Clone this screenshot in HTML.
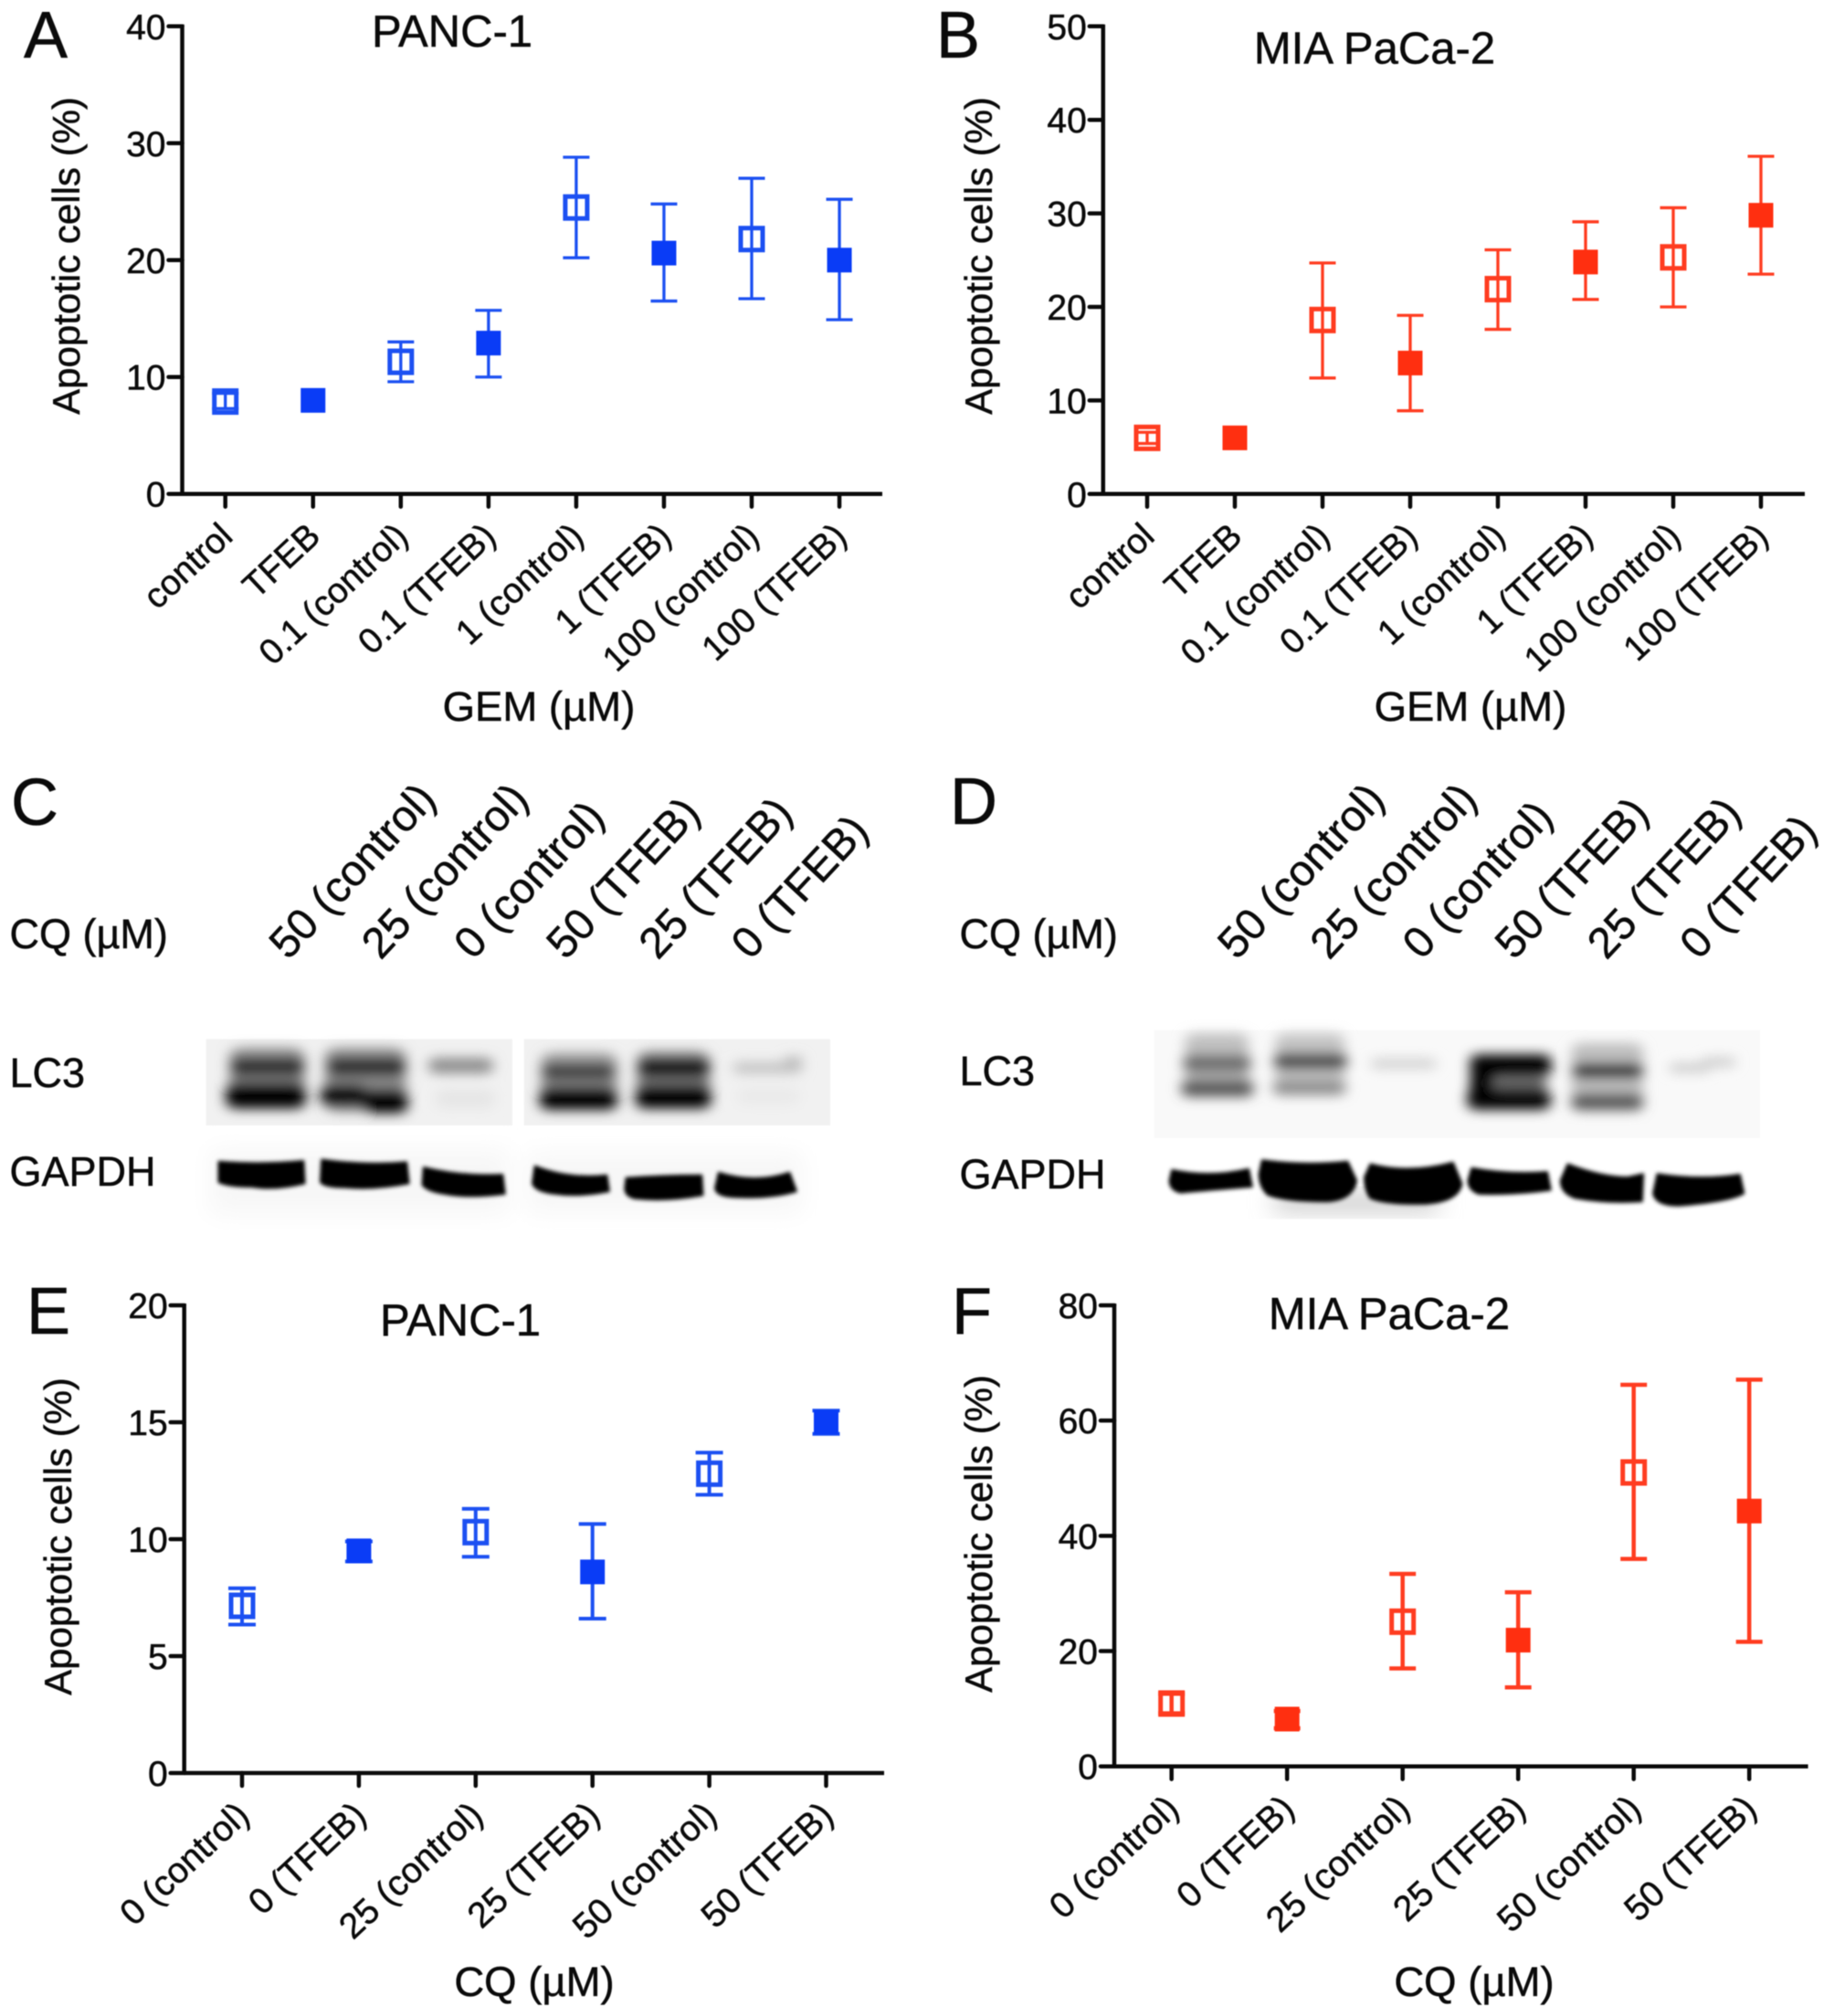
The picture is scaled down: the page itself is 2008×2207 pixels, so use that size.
<!DOCTYPE html>
<html lang="en">
<head>
<meta charset="utf-8">
<title>Apoptotic cells and LC3 blots in PANC-1 and MIA PaCa-2</title>
<style>
html,body{margin:0;padding:0;background:#fff;}
svg{display:block;filter:blur(0.6px);}
text{font-family:"Liberation Sans",sans-serif;fill:#0a0a0a;stroke:#0a0a0a;stroke-width:0.5px;}
</style>
</head>
<body>
<svg id="figure" xmlns="http://www.w3.org/2000/svg" width="2008" height="2207" viewBox="0 0 2008 2207">
<defs>
<filter id="blurL" x="-40%" y="-60%" width="180%" height="220%"><feGaussianBlur stdDeviation="11 18"/></filter>
<filter id="blurG" x="-10%" y="-20%" width="120%" height="140%"><feGaussianBlur stdDeviation="3.5 6"/></filter>
<filter id="blurH" x="-20%" y="-40%" width="140%" height="180%"><feGaussianBlur stdDeviation="20 34"/></filter>
</defs>
<rect width="2008" height="2207" fill="#fff"/>

<g font-size="72">
<text x="26" y="63">A</text>
<text x="1025" y="63">B</text>
<text x="12" y="903">C</text>
<text x="1040" y="902">D</text>
<text x="29" y="1460">E</text>
<text x="1042" y="1460">F</text>
</g>

<!-- Panel C blot -->
<g transform="translate(0,820) scale(0.641,0.3577)">
<rect x="352" y="888" width="523" height="264" fill="#f1f1f1"/>
<rect x="895" y="888" width="523" height="264" fill="#f1f1f1"/>
<rect x="360" y="1225" width="510" height="200" fill="#f7f7f7" filter="url(#blurH)"/>
<rect x="900" y="1235" width="470" height="185" fill="#f7f7f7" filter="url(#blurH)"/>
<g filter="url(#blurL)">
<rect x="392" y="915" width="128" height="185" rx="24" fill="#8c8c8c"/>
<rect x="395" y="945" width="124" height="55" rx="14" fill="#2c2c2c"/>
<rect x="386" y="1020" width="136" height="80" rx="20" fill="#000"/>
<rect x="555" y="915" width="138" height="195" rx="24" fill="#8c8c8c"/>
<rect x="560" y="945" width="132" height="55" rx="14" fill="#2c2c2c"/>
<rect x="548" y="1026" width="78" height="68" rx="18" fill="#000"/>
<rect x="620" y="1040" width="76" height="74" rx="18" fill="#000"/>
<rect x="732" y="945" width="110" height="48" rx="16" fill="#8e8e8e"/>
<rect x="745" y="1040" width="100" height="60" rx="16" fill="#e6e6e6"/>
<rect x="924" y="930" width="130" height="170" rx="24" fill="#9a9a9a"/>
<rect x="926" y="962" width="124" height="52" rx="16" fill="#404040"/>
<rect x="922" y="1032" width="132" height="72" rx="18" fill="#000"/>
<rect x="1088" y="925" width="124" height="175" rx="24" fill="#888"/>
<rect x="1090" y="945" width="122" height="62" rx="16" fill="#141414"/>
<rect x="1086" y="1026" width="128" height="74" rx="18" fill="#000"/>
<rect x="1252" y="958" width="118" height="36" rx="14" fill="#c4c4c4"/>
<rect x="1340" y="940" width="30" height="36" rx="10" fill="#bbb"/>
<rect x="1260" y="1035" width="105" height="55" rx="14" fill="#eaeaea"/>
</g>
<g filter="url(#blurG)" fill="#000" stroke="#000" stroke-width="4" stroke-linejoin="round">
<path d="M374 1262 Q445 1272 518 1260 L520 1330 Q470 1352 430 1340 Q390 1340 374 1326 Z"/>
<path d="M550 1256 Q625 1274 694 1264 L698 1330 Q640 1350 590 1342 Q555 1342 548 1326 Z"/>
<path d="M724 1280 Q790 1308 858 1302 L862 1362 Q800 1376 760 1362 Q730 1354 722 1334 Z"/>
<path d="M914 1276 Q970 1316 1036 1304 L1040 1354 Q990 1372 950 1362 Q915 1356 910 1330 Z"/>
<path d="M1070 1312 Q1130 1304 1198 1304 L1200 1366 Q1140 1386 1085 1376 Q1068 1369 1068 1344 Z"/>
<path d="M1228 1296 Q1290 1330 1348 1296 L1360 1354 Q1320 1376 1260 1372 Q1224 1372 1222 1344 Z"/>
</g>
</g>

<!-- Panel D blot -->
<g transform="translate(1004,820) scale(0.641,0.3577)">
<rect x="405" y="860" width="1035" height="330" fill="#f9f9f9"/>
<rect x="610" y="1360" width="280" height="55" fill="#c8c8c8" filter="url(#blurH)"/>
<g filter="url(#blurL)">
<rect x="458" y="870" width="108" height="190" rx="20" fill="#c0c0c0"/>
<rect x="455" y="935" width="115" height="55" rx="14" fill="#6e6e6e"/>
<rect x="452" y="1012" width="122" height="52" rx="14" fill="#555"/>
<rect x="612" y="870" width="118" height="190" rx="20" fill="#c4c4c4"/>
<rect x="610" y="930" width="124" height="52" rx="14" fill="#4e4e4e"/>
<rect x="608" y="1015" width="124" height="44" rx="14" fill="#8c8c8c"/>
<rect x="775" y="945" width="112" height="36" rx="12" fill="#d6d6d6"/>
<rect x="945" y="935" width="138" height="68" rx="16" fill="#000"/>
<rect x="945" y="995" width="40" height="55" rx="10" fill="#000"/>
<rect x="985" y="1005" width="90" height="36" rx="10" fill="#666"/>
<rect x="940" y="1040" width="142" height="64" rx="18" fill="#000"/>
<rect x="1118" y="900" width="122" height="210" rx="20" fill="#bdbdbd"/>
<rect x="1120" y="962" width="120" height="46" rx="14" fill="#262626"/>
<rect x="1118" y="1055" width="122" height="50" rx="14" fill="#555"/>
<rect x="1285" y="960" width="70" height="32" rx="12" fill="#d0d0d0"/>
<rect x="1340" y="942" width="58" height="32" rx="12" fill="#d0d0d0"/>
</g>
<g filter="url(#blurG)" fill="#000" stroke="#000" stroke-width="4" stroke-linejoin="round">
<path d="M436 1288 Q500 1312 566 1285 L572 1340 Q500 1350 450 1358 Q432 1350 432 1320 Z"/>
<path d="M590 1258 Q660 1275 735 1262 L750 1320 Q745 1380 700 1385 Q630 1385 600 1365 Q585 1340 585 1300 Z"/>
<path d="M775 1270 Q840 1300 915 1265 L930 1330 Q925 1385 870 1392 Q800 1395 775 1375 Q765 1350 765 1310 Z"/>
<path d="M948 1282 Q1010 1302 1076 1294 L1082 1350 Q1020 1365 960 1362 Q942 1350 942 1320 Z"/>
<path d="M1112 1270 Q1170 1310 1215 1310 L1240 1300 L1238 1385 Q1180 1392 1125 1375 Q1100 1360 1100 1320 Z"/>
<path d="M1265 1300 Q1340 1320 1405 1302 L1412 1360 Q1390 1385 1300 1398 Q1262 1398 1258 1360 Z"/>
</g>
</g>

<g font-size="45">
<text x="10.5" y="1038">CQ (µM)</text>
<text x="10.5" y="1190">LC3</text>
<text x="10.5" y="1298">GAPDH</text>
</g>
<g font-size="45">
<text x="1050.5" y="1038">CQ (µM)</text>
<text x="1050.5" y="1188">LC3</text>
<text x="1050.5" y="1301">GAPDH</text>
</g>
<g id="lane-labels"></g>
<g id="charts"></g>
</svg>

<script>
// Panel A: PANC-1 / GEM
const panelACategories = ["control","TFEB","0.1 (control)","0.1 (TFEB)","1 (control)","1 (TFEB)","100 (control)","100 (TFEB)"];
const panelAMeans = [7.9,8.0,11.3,12.9,24.5,20.6,21.8,20.0];
const panelAHighs = [8.6,8.0,13.0,15.7,28.8,24.8,27.0,25.2];
const panelALows = [7.3,8.0,9.6,10.0,20.2,16.5,16.7,14.9];
const panelATicks = [0,10,20,30,40];

// Panel B: MIA PaCa-2 / GEM
const panelBCategories = ["control","TFEB","0.1 (control)","0.1 (TFEB)","1 (control)","1 (TFEB)","100 (control)","100 (TFEB)"];
const panelBMeans = [6.0,6.0,18.6,14.0,21.9,24.8,25.3,29.8];
const panelBHighs = [6.6,6.0,24.7,19.1,26.1,29.1,30.6,36.1];
const panelBLows = [5.4,6.0,12.4,8.9,17.6,20.8,20.0,23.5];
const panelBTicks = [0,10,20,30,40,50];

// Panel E: PANC-1 / CQ
const panelECategories = ["0 (control)","0 (TFEB)","25 (control)","25 (TFEB)","50 (control)","50 (TFEB)"];
const panelEMeans = [7.15,9.5,10.3,8.6,12.8,15.0];
const panelEHighs = [7.9,9.9,11.3,10.65,13.7,15.5];
const panelELows = [6.35,9.05,9.25,6.6,11.9,14.5];
const panelETicks = [0,5,10,15,20];

// Panel F: MIA PaCa-2 / CQ
const panelFCategories = ["0 (control)","0 (TFEB)","25 (control)","25 (TFEB)","50 (control)","50 (TFEB)"];
const panelFMeans = [10.9,8.2,25.1,21.9,51.0,44.3];
const panelFHighs = [12.6,9.6,33.4,30.2,66.2,67.1];
const panelFLows = [9.2,6.6,17.0,13.7,36.0,21.6];
const panelFTicks = [0,20,40,60,80];

// Blot lane labels
const laneLabels = ["50 (control)","25 (control)","0 (control)","50 (TFEB)","25 (TFEB)","0 (TFEB)"];

const NS = "http://www.w3.org/2000/svg";
const charts = document.getElementById("charts");
const laneGroup = document.getElementById("lane-labels");

function make(tag, attrs, parent) {
  const node = document.createElementNS(NS, tag);
  for (const key in attrs) node.setAttribute(key, attrs[key]);
  parent.appendChild(node);
  return node;
}
function slug(s) {
  return s.toLowerCase().replace(/[^a-z0-9]+/g, "-").replace(/^-|-$/g, "");
}

function drawPanel(cfg) {
  const g = make("g", {}, charts);
  
  
  const maxVal = cfg.ticks[cfg.ticks.length - 1];
  const yScale = v => cfg.bottom - (v / maxVal) * (cfg.bottom - cfg.top);
  const xScale = i => cfg.firstX + i * cfg.stepX;

  const yAxis = make("line", {x1:cfg.axisX,x2:cfg.axisX,y1:cfg.top-2,y2:cfg.bottom,stroke:"#0a0a0a","stroke-width":4.5}, g);
  
  
  const xAxis = make("line", {x1:cfg.axisX,x2:cfg.right,y1:cfg.bottom,y2:cfg.bottom,stroke:"#0a0a0a","stroke-width":4.5}, g);
  
  

  cfg.ticks.forEach(t => {
    const y = yScale(t);
    const tick = make("line", {x1:cfg.axisX-15,x2:cfg.axisX,y1:y,y2:y,stroke:"#0a0a0a","stroke-width":4.5,"stroke-linecap":"round"}, g);
    
    
    const label = make("text", {x:cfg.axisX-18,y:y+14,"text-anchor":"end","font-size":39}, g);
    
    
    label.textContent = String(t);
  });

  cfg.categories.forEach((name, i) => {
    const x = xScale(i);
    const tick = make("line", {x1:x,x2:x,y1:cfg.bottom,y2:cfg.bottom+14,stroke:"#0a0a0a","stroke-width":4.5,"stroke-linecap":"round"}, g);
    
    
    const lx = x + 10, ly = cfg.bottom + 49;
    const label = make("text", {transform:`translate(${lx},${ly}) rotate(-43)`,"text-anchor":"end","font-size":cfg.labelSize}, g);
    
    
    label.textContent = name;

    const filled = name.indexOf("TFEB") >= 0;
    const point = make("g", {}, g);
    
    
    const yMean = yScale(cfg.means[i]);
    const yHigh = yScale(cfg.highs[i]);
    const yLow = yScale(cfg.lows[i]);
    if (yHigh !== yLow) {
      const stem = make("line", {x1:x,x2:x,y1:yHigh,y2:yLow,stroke:cfg.color,"stroke-width":cfg.errW}, point);
      
      
      const capTop = make("line", {x1:x-cfg.capH,x2:x+cfg.capH,y1:yHigh,y2:yHigh,stroke:cfg.color,"stroke-width":cfg.errW}, point);
      
      
      const capLow = make("line", {x1:x-cfg.capH,x2:x+cfg.capH,y1:yLow,y2:yLow,stroke:cfg.color,"stroke-width":cfg.errW}, point);
      
      
    }
    const marker = filled
      ? make("rect", {x:x-13.5,y:yMean-13.5,width:27,height:27,fill:cfg.fillColor}, point)
      : make("rect", {x:x-12,y:yMean-12,width:24,height:24,fill:"none",stroke:cfg.color,"stroke-width":5}, point);
    
    
  });

  const yTitle = make("text", {transform:`translate(${cfg.yTitleX},${cfg.yTitleY}) rotate(-90)`,"text-anchor":"middle","font-size":42}, g);
  
  
  yTitle.textContent = "Apoptotic cells (%)";

  const xTitle = make("text", {x:cfg.xTitleX,y:cfg.xTitleBase,"text-anchor":"middle","font-size":45.5}, g);
  
  
  xTitle.textContent = cfg.xTitle;

  const title = make("text", {x:cfg.titleX,y:cfg.titleBase,"text-anchor":"middle","font-size":49}, g);
  
  
  title.textContent = cfg.title;
}

const BLUE = "#1c50f2", BLUE_FILL = "#0a3cf6", RED = "#ff3c20", RED_FILL = "#ff2f10";

drawPanel({id:"a",categories:panelACategories,means:panelAMeans,highs:panelAHighs,lows:panelALows,ticks:panelATicks,labelSize:38.5,
  axisX:199.5,top:28.8,bottom:540.7,right:966,firstX:246.7,stepX:96.05,color:BLUE,fillColor:BLUE_FILL,errW:3.3,capH:14.5,
  yTitleX:87,yTitleY:280,xTitleX:590,xTitleBase:789,xTitle:"GEM (µM)",titleX:495,titleBase:51,title:"PANC-1"});
drawPanel({id:"b",categories:panelBCategories,means:panelBMeans,highs:panelBHighs,lows:panelBLows,ticks:panelBTicks,labelSize:38.5,
  axisX:1207.8,top:28.8,bottom:540.8,right:1976,firstX:1256,stepX:96,color:RED,fillColor:RED_FILL,errW:3.3,capH:14.5,
  yTitleX:1086,yTitleY:280,xTitleX:1610,xTitleBase:789,xTitle:"GEM (µM)",titleX:1505,titleBase:69.5,title:"MIA PaCa-2"});
drawPanel({id:"e",categories:panelECategories,means:panelEMeans,highs:panelEHighs,lows:panelELows,ticks:panelETicks,labelSize:39,
  axisX:201.7,top:1429,bottom:1941,right:968,firstX:265,stepX:127.9,color:BLUE,fillColor:BLUE_FILL,errW:4,capH:15,
  yTitleX:78,yTitleY:1682,xTitleX:585,xTitleBase:2185,xTitle:"CQ (µM)",titleX:504,titleBase:1462,title:"PANC-1"});
drawPanel({id:"f",categories:panelFCategories,means:panelFMeans,highs:panelFHighs,lows:panelFLows,ticks:panelFTicks,labelSize:39,
  axisX:1220,top:1429,bottom:1933.7,right:1979.6,firstX:1282.7,stepX:126.5,color:RED,fillColor:RED_FILL,errW:4.5,capH:14.5,
  yTitleX:1086,yTitleY:1679,xTitleX:1614,xTitleBase:2185,xTitle:"CQ (µM)",titleX:1521,titleBase:1455,title:"MIA PaCa-2"});

function drawLanes(startX, id) {
  laneLabels.forEach((name, i) => {
    const x = startX + i * 101.2;
    const label = make("text", {transform:`translate(${x},1052) rotate(-47)`,"font-size":47.5}, laneGroup);
    
    
    label.textContent = name;
  });
}
drawLanes(315.5, "c");
drawLanes(1354, "d");
</script>
</body>
</html>
